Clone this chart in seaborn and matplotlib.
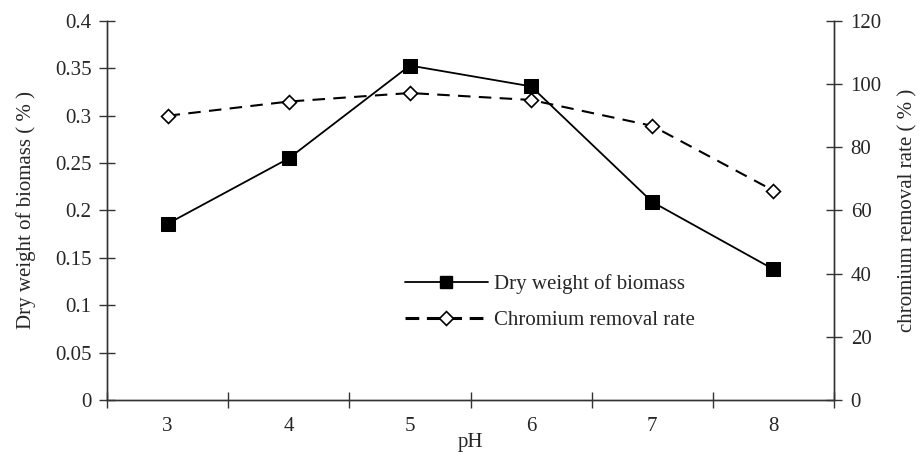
import numpy as np
import pandas as pd
import seaborn as sns
import matplotlib
matplotlib.use("Agg")
import matplotlib.pyplot as plt
from matplotlib.lines import Line2D

ph = [3, 4, 5, 6, 7, 8]
dry_weight = [0.186, 0.255, 0.353, 0.331, 0.209, 0.138]
cr_removal = [90.0, 94.5, 97.2, 95.0, 86.8, 66.3]
left_ticks = [0, 0.05, 0.1, 0.15, 0.2, 0.25, 0.3, 0.35, 0.4]
left_labels = ["0", "0.05", "0.1", "0.15", "0.2", "0.25", "0.3", "0.35", "0.4"]
right_ticks = [0, 20, 40, 60, 80, 100, 120]

sns.set_theme(style="white")
plt.rcParams['font.family'] = ['Liberation Serif', 'DejaVu Serif']
FS = 15

df = pd.DataFrame({"pH": ph, "dry": dry_weight, "cr": cr_removal})

fig = plt.figure(figsize=(9.21, 4.54), dpi=100)
ax = fig.add_axes([107/921, 1-400/454, (834-107)/921, (400-21)/454])
ax2 = ax.twinx()

sns.lineplot(data=df, x="pH", y="dry", ax=ax, color="black", linewidth=1.3,
             marker="s", markersize=9.5, markerfacecolor="black",
             markeredgecolor="black")
sns.lineplot(data=df, x="pH", y="cr", ax=ax2, color="black", linewidth=1.5,
             marker="D", markersize=8, markerfacecolor="white",
             markeredgecolor="black", markeredgewidth=1.2)
ax2.lines[0].set_dashes([6, 4])
ax2.lines[0].set_marker((4, 0, 0))
ax2.lines[0].set_markersize(10)

ax.set_xlim(2.5, 8.5)
ax.set_ylim(0, 0.4)
ax2.set_ylim(0, 120)
ax.set_yticks(left_ticks)
ax.set_yticklabels(left_labels)
ax2.set_yticks(right_ticks)
ax.set_xticks(ph)
ax.set_xticklabels([str(p) for p in ph])
ax.set_xticks(np.arange(2.5, 9.0, 1.0), minor=True)

ax.set_xlabel("pH", fontsize=FS, labelpad=-2)
ax.set_ylabel("Dry weight of biomass ( % )", fontsize=FS, labelpad=14)
ax2.set_ylabel("chromium removal rate ( % )", fontsize=FS, labelpad=12)

for a in (ax, ax2):
    for s in a.spines.values():
        s.set_color("#333333")
        s.set_linewidth(1.0)
    a.spines['top'].set_visible(False)
    a.grid(False)
ax.tick_params(axis="x", which="major", length=0, labelsize=FS, pad=12)
ax.tick_params(axis="x", which="minor", direction="inout", length=12, width=1, color="#333333", bottom=True)
ax.tick_params(axis="y", direction="inout", length=12, width=1, color="#333333", labelsize=FS, pad=5, left=True)
ax2.tick_params(axis="y", direction="inout", length=12, width=1, color="#333333", labelsize=FS, pad=6, right=True)

handles = [
    Line2D([], [], color="black", linewidth=1.3, marker="s", markersize=9),
    Line2D([], [], color="black", linewidth=2.2, linestyle=(0, (4.5, 2.5)), marker=(4, 0, 0),
           markersize=10, markerfacecolor="white", markeredgewidth=1.2),
]
ax.legend(handles, ["Dry weight of biomass", "Chromium removal rate"],
          loc="upper left", bbox_to_anchor=((397-107)/727, 1-(266-21)/379),
          frameon=False, fontsize=FS, handlelength=3.95, handletextpad=0.3,
          labelspacing=0.8, borderaxespad=0, borderpad=0.4)

fig.savefig("out.png", dpi=100)
